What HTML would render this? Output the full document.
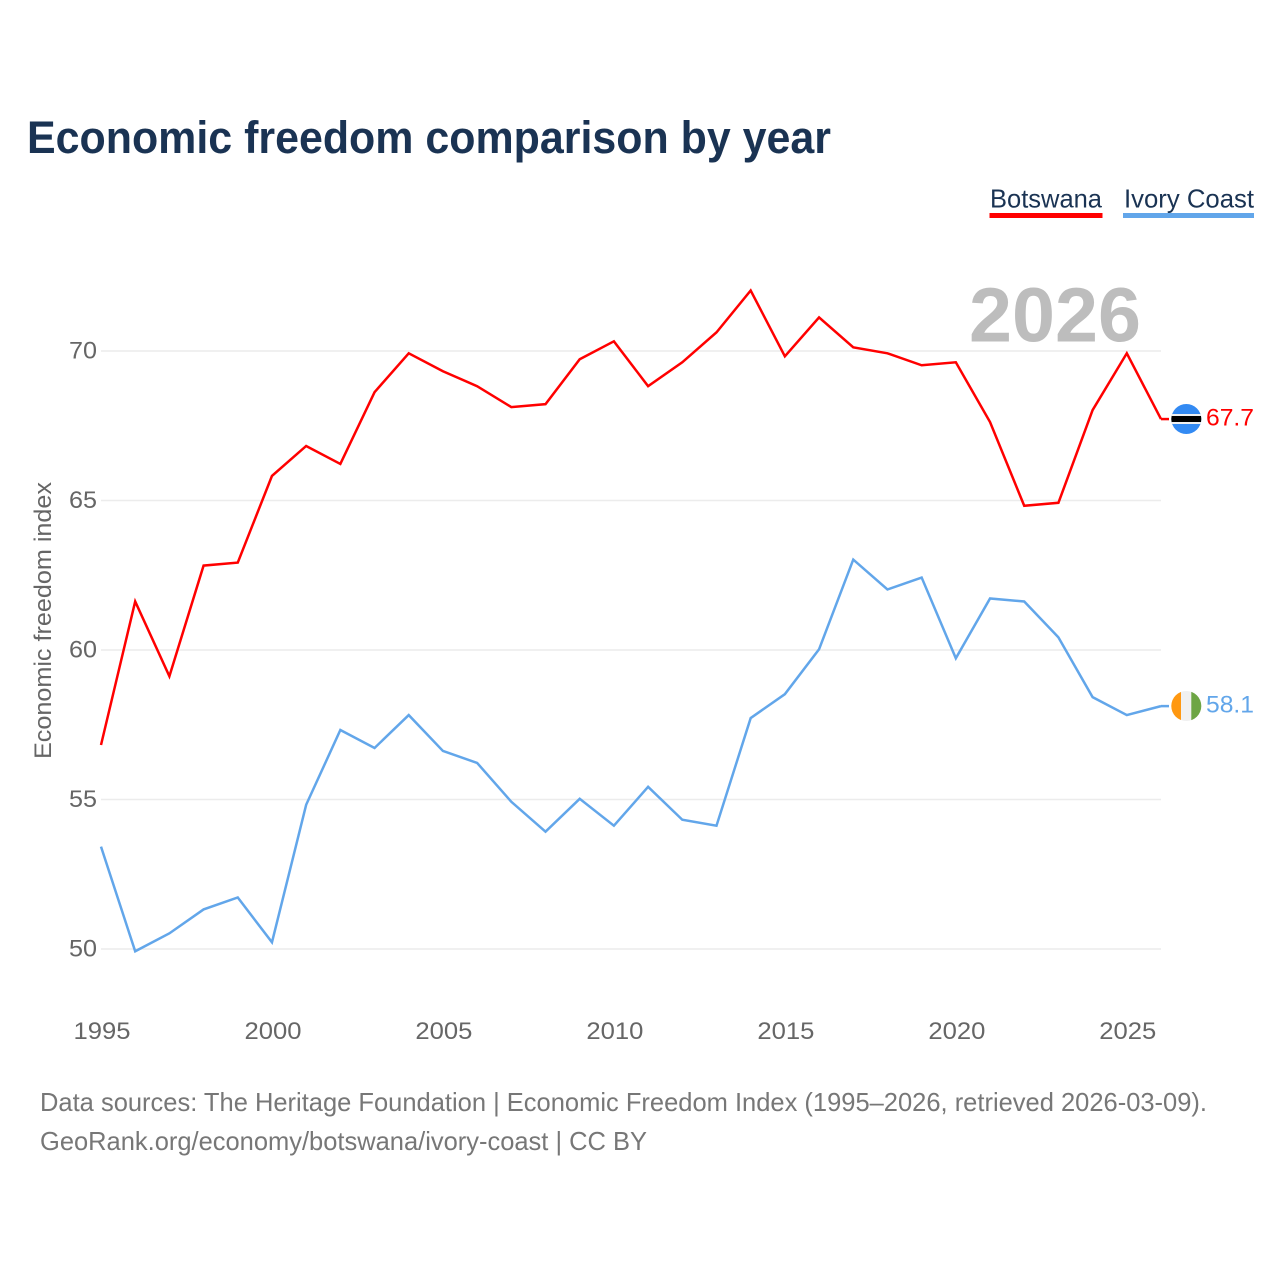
<!DOCTYPE html>
<html>
<head>
<meta charset="utf-8">
<style>
html,body{margin:0;padding:0;background:#fff}
svg{display:block}
text{font-family:"Liberation Sans",sans-serif}
</style>
</head>
<body>
<svg id="chart" xmlns="http://www.w3.org/2000/svg" width="1280" height="1280" viewBox="0 0 1280 1280">
  <rect width="1280" height="1280" fill="#fff"/>
  <text x="27" y="153" font-size="45" font-weight="700" fill="#1a3353" textLength="804" lengthAdjust="spacingAndGlyphs">Economic freedom comparison by year</text>
  <g>
    <text x="990" y="207.500" font-size="26" fill="#1a3353" textLength="112" lengthAdjust="spacingAndGlyphs">Botswana</text>
    <rect x="989.500" y="213" width="113" height="5" fill="#ff0000"/>
  </g>
  <g>
    <text x="1124" y="207.500" font-size="26" fill="#1a3353" textLength="130" lengthAdjust="spacingAndGlyphs">Ivory Coast</text>
    <rect x="1123" y="213" width="131" height="5" fill="#62a6ea"/>
  </g>
  <g id="grid"></g>
  <text id="watermark" x="1141" y="341.500" text-anchor="end" font-size="77" font-weight="700" fill="#bdbdbd" textLength="172" lengthAdjust="spacingAndGlyphs"></text>
  <g id="y-ticks"></g>
  <g id="x-ticks"></g>
  <text transform="translate(51,620.500) rotate(-90)" text-anchor="middle" font-size="24" fill="#666" textLength="277" lengthAdjust="spacingAndGlyphs">Economic freedom index</text>
  <g id="series"></g>
  <defs>
    <clipPath id="clip-bw"><circle cx="1186.300" cy="419" r="15"/></clipPath>
    <clipPath id="clip-ci"><circle cx="1186.300" cy="706" r="15"/></clipPath>
  </defs>
  <g clip-path="url(#clip-bw)">
    <rect x="1171" y="404" width="31" height="30" fill="#338af3"/>
    <rect x="1171" y="414" width="31" height="10" fill="#f0f0f0"/>
    <rect x="1171" y="416" width="31" height="6" fill="#000"/>
  </g>
  <g clip-path="url(#clip-ci)">
    <rect x="1171" y="691" width="31" height="30" fill="#f0f0f0"/>
    <rect x="1171" y="691" width="10" height="30" fill="#ff9811"/>
    <rect x="1191.300" y="691" width="10.700" height="30" fill="#6da544"/>
  </g>
  <text x="40" y="1111" font-size="26" fill="#777" textLength="1167" lengthAdjust="spacingAndGlyphs">Data sources: The Heritage Foundation | Economic Freedom Index (1995–2026, retrieved 2026-03-09).</text>
  <text x="40" y="1150" font-size="26" fill="#777" textLength="607" lengthAdjust="spacingAndGlyphs">GeoRank.org/economy/botswana/ivory-coast | CC BY</text>
</svg>
<script>
const years = [1995,1996,1997,1998,1999,2000,2001,2002,2003,2004,2005,2006,2007,2008,2009,2010,2011,2012,2013,2014,2015,2016,2017,2018,2019,2020,2021,2022,2023,2024,2025,2026];
const botswana = [56.8,61.6,59.1,62.8,62.9,65.8,66.8,66.2,68.6,69.9,69.3,68.8,68.1,68.2,69.7,70.3,68.8,69.6,70.6,72.0,69.8,71.1,70.1,69.9,69.5,69.6,67.6,64.8,64.9,68.0,69.9,67.7];
const ivoryCoast = [53.4,49.9,50.5,51.3,51.7,50.2,54.8,57.3,56.7,57.8,56.6,56.2,54.9,53.9,55.0,54.1,55.4,54.3,54.1,57.7,58.5,60.0,63.0,62.0,62.4,59.7,61.7,61.6,60.4,58.4,57.8,58.1];
const yTickValues = [50,55,60,65,70];
const xTickValues = [1995,2000,2005,2010,2015,2020,2025];

const NS = 'http://www.w3.org/2000/svg';
const xScale = function (year) { return 101 + (year - 1995) * (1161 - 101) / 31; };
const yScale = function (value) { return 949 - (value - 50) * (949 - 351) / 20; };
const lineOffset = -0.7;

function make(tag, parent, attrs, text) {
  const el = document.createElementNS(NS, tag);
  for (const k in attrs) el.setAttribute(k, attrs[k]);
  if (text !== undefined) el.textContent = text;
  parent.appendChild(el);
  return el;
}

const grid = document.getElementById('grid');
const yTicks = document.getElementById('y-ticks');
yTickValues.forEach(function (v) {
  const line = make('line', grid, {x1: 101, x2: 1161, y1: yScale(v), y2: yScale(v), stroke: '#ececec', 'stroke-width': 1.5});
  
  
  const label = make('text', yTicks, {x: 97, y: yScale(v) + 7.5, 'text-anchor': 'end', 'font-size': 24, fill: '#666', textLength: 28, lengthAdjust: 'spacingAndGlyphs'}, String(v));
  
  
});

const xTicks = document.getElementById('x-ticks');
xTickValues.forEach(function (y) {
  const label = make('text', xTicks, {x: xScale(y) + 1, y: 1039, 'text-anchor': 'middle', 'font-size': 24, fill: '#666', textLength: 57, lengthAdjust: 'spacingAndGlyphs'}, String(y));
  
  
});

document.getElementById('watermark').textContent = String(years[years.length - 1]);

const series = document.getElementById('series');
function drawSeries(values, color, slug) {
  const pts = values.map(function (v, i) { return xScale(years[i]).toFixed(2) + ',' + (yScale(v) + lineOffset).toFixed(2); }).join(' ');
  const path = make('polyline', series, {points: pts, fill: 'none', stroke: color, 'stroke-width': 2.500, 'stroke-linejoin': 'miter'});
  
  
  const last = values[values.length - 1];
  const ly = yScale(last) + lineOffset;
  const conn = make('line', series, {x1: 1161, x2: 1169, y1: ly, y2: ly, stroke: color, 'stroke-width': 2.500});
  
  
  const lab = make('text', series, {x: 1206, y: ly + 6.5, 'font-size': 24, fill: color, textLength: 48, lengthAdjust: 'spacingAndGlyphs'}, last.toFixed(1));
  
  
}
drawSeries(botswana, '#ff0000', 'botswana');
drawSeries(ivoryCoast, '#62a6ea', 'ivory-coast');
</script>
</body>
</html>
